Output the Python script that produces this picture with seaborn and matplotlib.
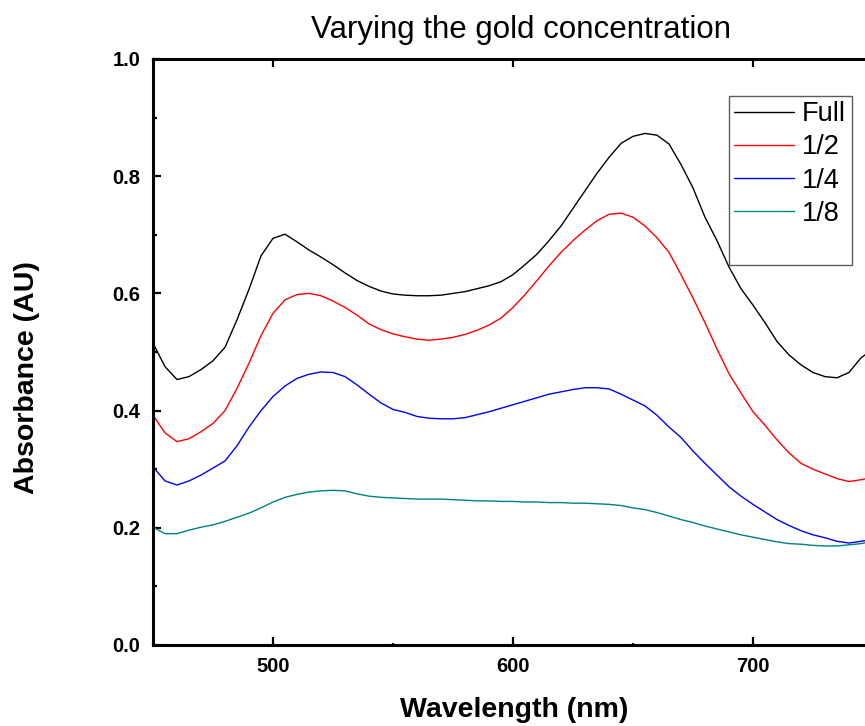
import matplotlib
matplotlib.use('Agg')
import matplotlib.pyplot as plt
from matplotlib.lines import Line2D
from matplotlib.ticker import MultipleLocator, FormatStrFormatter
import pandas as pd
import seaborn as sns

# Wavelength grid (nm)
wavelength = [450, 455, 460, 465, 470, 475, 480, 485, 490, 495,
              500, 505, 510, 515, 520, 525, 530, 535, 540, 545,
              550, 555, 560, 565, 570, 575, 580, 585, 590, 595,
              600, 605, 610, 615, 620, 625, 630, 635, 640, 645,
              650, 655, 660, 665, 670, 675, 680, 685, 690, 695,
              700, 705, 710, 715, 720, 725, 730, 735, 740, 745, 750]

# Absorbance
full = [0.515, 0.475, 0.453, 0.458, 0.470, 0.485, 0.508, 0.555, 0.607, 0.664,
        0.694, 0.701, 0.688, 0.674, 0.662, 0.649, 0.635, 0.622, 0.612, 0.604,
        0.599, 0.597, 0.596, 0.596, 0.597, 0.600, 0.603, 0.608, 0.613, 0.620,
        0.632, 0.649, 0.667, 0.690, 0.715, 0.745, 0.775, 0.805, 0.832, 0.856,
        0.868, 0.873, 0.870, 0.855, 0.820, 0.780, 0.730, 0.690, 0.645, 0.608,
        0.580, 0.550, 0.518, 0.495, 0.478, 0.465, 0.458, 0.456, 0.465, 0.490, 0.505]

half = [0.392, 0.362, 0.347, 0.352, 0.364, 0.378, 0.400, 0.438, 0.481, 0.528,
        0.566, 0.589, 0.598, 0.600, 0.596, 0.587, 0.576, 0.563, 0.548, 0.538,
        0.531, 0.526, 0.522, 0.520, 0.522, 0.525, 0.530, 0.537, 0.546, 0.558,
        0.576, 0.598, 0.622, 0.647, 0.670, 0.690, 0.708, 0.724, 0.735, 0.737,
        0.730, 0.715, 0.695, 0.670, 0.632, 0.592, 0.550, 0.505, 0.463, 0.430,
        0.398, 0.375, 0.350, 0.328, 0.310, 0.300, 0.292, 0.284, 0.279, 0.282, 0.286]

quarter = [0.304, 0.280, 0.273, 0.280, 0.290, 0.302, 0.314, 0.340, 0.372, 0.400,
           0.424, 0.442, 0.455, 0.462, 0.466, 0.465, 0.458, 0.444, 0.428, 0.413,
           0.402, 0.397, 0.390, 0.387, 0.386, 0.386, 0.388, 0.393, 0.398, 0.404,
           0.410, 0.416, 0.422, 0.428, 0.432, 0.436, 0.439, 0.439, 0.437, 0.428,
           0.418, 0.408, 0.392, 0.372, 0.354, 0.331, 0.310, 0.290, 0.270, 0.254,
           0.240, 0.227, 0.214, 0.204, 0.195, 0.188, 0.183, 0.177, 0.174, 0.177, 0.180]

eighth = [0.201, 0.190, 0.190, 0.196, 0.201, 0.205, 0.211, 0.218, 0.225, 0.234,
          0.244, 0.252, 0.257, 0.261, 0.263, 0.264, 0.263, 0.258, 0.254, 0.252,
          0.251, 0.250, 0.249, 0.249, 0.249, 0.248, 0.247, 0.246, 0.246, 0.245,
          0.245, 0.244, 0.244, 0.243, 0.243, 0.242, 0.242, 0.241, 0.240, 0.238,
          0.234, 0.231, 0.226, 0.220, 0.214, 0.209, 0.203, 0.198, 0.193, 0.188,
          0.184, 0.180, 0.176, 0.173, 0.172, 0.170, 0.169, 0.169, 0.171, 0.173, 0.177]

labels = ['Full', '1/2', '1/4', '1/8']
colors = ['#000000', '#ff0000', '#0000ff', '#008080']

rows = []
for lab, ys in zip(labels, [full, half, quarter, eighth]):
    for x, y in zip(wavelength, ys):
        rows.append({'Wavelength': x, 'Absorbance': y, 'Sample': lab})
df = pd.DataFrame(rows)

sns.set_style('ticks', {'axes.edgecolor': 'black', 'text.color': 'black',
                        'axes.labelcolor': 'black', 'xtick.color': 'black',
                        'ytick.color': 'black'})
plt.rcParams['font.family'] = ['Liberation Sans', 'DejaVu Sans']

fig = plt.figure(figsize=(8.65, 7.26), dpi=100)
# axes runs a little past the right edge, as in the original export
ax = fig.add_axes([153 / 865, 81 / 726, 720 / 865, 586 / 726])

sns.lineplot(data=df, x='Wavelength', y='Absorbance', hue='Sample',
             hue_order=labels, palette=colors, linewidth=1.0, ax=ax,
             legend=False)

ax.set_xlim(450, 750)
ax.set_ylim(0, 1.0)
ax.xaxis.set_major_locator(MultipleLocator(100))
ax.xaxis.set_minor_locator(MultipleLocator(50))
ax.yaxis.set_major_locator(MultipleLocator(0.2))
ax.yaxis.set_minor_locator(MultipleLocator(0.1))
ax.yaxis.set_major_formatter(FormatStrFormatter('%.1f'))

ax.tick_params(which='both', direction='in', top=True, right=True, width=1.6)
ax.tick_params(which='major', length=6, labelsize=14.5, pad=9)
ax.tick_params(axis='y', which='minor', length=3)
ax.tick_params(axis='x', which='minor', length=1.5)
for lbl in ax.get_xticklabels() + ax.get_yticklabels():
    lbl.set_fontweight('bold')
for sp in ax.spines.values():
    sp.set_linewidth(2.2)

ax.set_xlabel('Wavelength (nm)', fontsize=20.5, fontweight='bold')
ax.xaxis.set_label_coords((514 - 153) / 720, (645 - 697) / 586)
ax.set_ylabel('Absorbance (AU)', fontsize=20.5, fontweight='bold')
ax.yaxis.set_label_coords((40 - 153) / 720, (645 - 378) / 586)
fig.text(521 / 865, 1 - 30 / 726, 'Varying the gold concentration',
         fontsize=22.5, ha='center', va='center')

handles = [Line2D([], [], color=c, linewidth=1.0) for c in colors]
handles.append(Line2D([], [], color='none'))
leg = ax.legend(handles, labels + [' '], loc='upper left',
                bbox_to_anchor=(729 / 865, 1 - 96 / 726),
                bbox_transform=fig.transFigure, fontsize=19.5, frameon=True,
                fancybox=False, handlelength=2.2, handletextpad=0.3,
                labelspacing=0.26, borderpad=0.2, borderaxespad=0)
leg.get_frame().set_edgecolor('#333333')
leg.get_frame().set_linewidth(1.0)

fig.savefig('out.png', dpi=100)
